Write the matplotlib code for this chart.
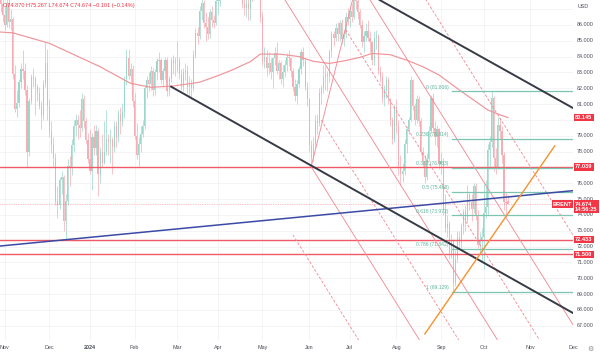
import numpy as np
import pandas as pd
import matplotlib
matplotlib.use("Agg")
import matplotlib.pyplot as plt
import matplotlib.transforms as mtransforms

plt.rcParams["font.family"] = ["Liberation Sans", "DejaVu Sans"]

# trading calendar of the CFD (weekdays minus exchange holidays)
holidays = ["2023-12-25", "2024-01-01", "2024-03-29"]
days = pd.bdate_range("2023-10-30", "2024-12-31")
days = days[~days.isin(pd.to_datetime(holidays))]

# daily bars from 2023-10-30 to 2024-10-17
opens = [88.6, 87.3,
         86.6, 86.0, 87.4, 86.2, 86.4, 82.9, 80.7, 81.1, 82.4, 83.2, 83.1, 81.9, 78.0, 81.2, 82.7, 82.6, 82.1, 81.7, 80.9, 80.3, 82.3, 83.6,
         80.9, 79.3, 78.4, 77.6, 74.9, 74.6, 76.2, 76.4, 73.6, 74.9, 77.1, 77.0, 78.4, 79.6, 80.0, 79.7, 79.5, 81.3, 79.9, 78.7,
         77.5, 76.8, 78.9, 78.2, 79.3, 76.6, 78.0, 77.3, 78.0, 78.8, 78.6, 78.7, 78.3, 79.6, 78.9, 80.4, 79.9, 80.5, 82.6, 83.9, 82.8, 83.2,
         81.2, 79.0, 77.8, 78.5, 79.1, 79.6, 82.0, 82.5, 82.3, 83.1, 81.9, 83.0, 83.7, 83.8, 82.5, 83.1, 83.8, 81.8, 82.6, 83.8, 83.6,
         83.7, 83.8, 82.9, 82.1, 83.0, 83.1, 82.1, 82.3, 82.0, 84.1, 85.5, 85.3, 86.9, 87.4, 86.1, 85.9, 85.4, 86.8, 86.3, 86.1,
         87.5, 87.5, 89.0, 89.4, 90.7, 91.2, 90.4, 89.4, 90.5, 89.7, 90.5, 90.1, 90.0, 87.3, 87.1, 87.3, 87.0, 88.4, 88.0, 89.0, 89.5, 88.4,
         86.5, 83.7, 84.0, 83.3, 83.6, 83.0, 83.9, 84.2, 83.1, 83.6, 82.6, 83.0, 83.5, 84.0, 83.9, 83.1, 82.1, 81.5, 82.3, 83.2, 84.3, 83.8, 82.1,
         81.3, 78.4, 77.6, 78.5, 79.9, 79.8, 81.7, 82.0, 82.7, 82.9, 82.8, 84.3, 85.4, 85.2, 85.8, 85.4, 86.1, 85.1, 85.4, 86.5,
         86.4, 86.9, 86.5, 87.6, 87.5, 86.8, 86.0, 84.9, 85.3, 85.6, 85.2, 84.9, 83.8, 85.2, 85.3, 83.1, 82.7, 81.4, 81.9, 82.5, 81.3, 80.0, 78.8,
         80.8, 79.6, 77.0, 76.6, 76.8, 78.5, 79.4, 80.0, 82.5, 80.9, 80.0, 81.3, 79.9, 78.0, 77.4, 76.4, 77.5, 79.3, 81.4, 79.5, 78.9, 79.4,
         77.2, 77.4, 74.3, 73.2, 73.4, 71.6, 72.4, 69.7, 71.2, 72.6, 72.2, 73.3, 74.2, 73.7, 75.3, 74.8, 74.4, 75.8, 74.0, 72.1, 72.4,
         72.6, 74.1, 74.5, 78.1, 78.6, 81.4, 77.6, 77.0, 79.7, 79.3, 77.8, 74.8, 74.87]
highs = [89.0, 88.0,
         87.2, 87.8, 87.9, 87.0, 86.5, 83.5, 81.9, 82.6, 83.6, 84.4, 83.6, 82.2, 81.4, 82.9, 83.3, 82.8, 82.3, 82.1, 81.2, 82.5, 84.9, 84.5,
         81.3, 79.9, 78.9, 77.9, 75.8, 76.4, 76.8, 76.5, 75.3, 77.5, 77.7, 78.8, 80.0, 80.4, 80.3, 80.6, 81.7, 81.6, 80.1, 79.2,
         79.4, 79.2, 79.7, 79.7, 79.5, 78.3, 79.1, 79.9, 80.6, 79.1, 79.4, 78.9, 79.9, 79.9, 80.6, 80.8, 81.1, 82.8, 84.5, 84.5, 83.6, 83.5,
         81.7, 79.8, 78.9, 79.6, 80.0, 82.2, 82.8, 83.0, 83.4, 83.3, 83.2, 83.9, 84.3, 83.9, 83.3, 84.0, 84.0, 82.8, 84.0, 84.1, 84.0,
         85.0, 84.0, 83.2, 83.3, 83.6, 83.5, 82.8, 82.6, 84.4, 85.8, 85.9, 87.2, 87.8, 87.6, 86.8, 86.5, 87.0, 87.2, 86.6, 87.7,
         88.0, 89.2, 89.8, 91.0, 91.5, 91.3, 90.7, 90.9, 90.8, 92.2, 91.0, 90.6, 90.2, 87.9, 90.8, 87.7, 88.7, 88.8, 89.2, 89.7, 89.6, 88.8,
         86.8, 84.6, 84.4, 84.3, 83.9, 84.0, 84.6, 84.9, 83.8, 83.7, 83.5, 83.8, 84.2, 84.4, 84.0, 83.3, 82.6, 82.5, 83.4, 84.5, 84.6, 83.9, 82.4,
         81.4, 78.7, 78.9, 80.3, 80.4, 82.0, 82.2, 83.5, 83.4, 83.1, 84.5, 85.6, 85.6, 86.1, 86.2, 86.3, 86.4, 85.7, 86.8, 87.1,
         87.2, 87.4, 88.0, 87.8, 88.0, 87.0, 86.3, 85.6, 86.1, 86.3, 85.6, 85.0, 85.6, 85.7, 85.4, 83.4, 83.0, 82.2, 82.8, 82.7, 81.4, 80.2, 81.0,
         81.3, 80.0, 77.8, 77.3, 78.8, 79.6, 80.2, 82.8, 82.6, 81.1, 81.6, 81.5, 80.1, 78.3, 77.8, 77.9, 79.6, 81.6, 81.7, 79.9, 79.7, 79.5,
         78.0, 77.6, 75.3, 74.0, 73.6, 72.8, 72.5, 71.8, 73.0, 73.0, 73.5, 74.4, 74.6, 75.9, 75.4, 75.3, 76.0, 76.0, 74.3, 72.9, 73.2,
         76.0, 76.2, 78.5, 79.0, 81.806, 81.5, 78.2, 80.2, 80.1, 79.6, 78.0, 75.4, 75.267]
lows = [86.8, 86.2,
        85.7, 85.9, 85.8, 85.7, 82.6, 80.5, 80.2, 80.8, 82.0, 82.6, 81.6, 77.04, 77.7, 81.0, 82.1, 80.3, 81.2, 80.7, 79.4, 80.0, 82.1, 80.0,
        78.9, 77.9, 77.0, 74.6, 73.8, 74.4, 75.3, 73.0, 72.433, 74.6, 75.8, 76.5, 78.0, 79.0, 78.8, 78.9, 79.3, 79.5, 78.5, 77.3,
        76.6, 75.6, 77.8, 77.8, 75.2, 76.0, 77.0, 77.2, 77.8, 77.8, 77.3, 76.6, 78.0, 78.3, 78.6, 79.1, 79.6, 80.1, 82.2, 82.6, 82.3, 80.8,
        78.8, 77.5, 77.1, 78.0, 78.9, 79.4, 81.4, 81.8, 81.9, 81.5, 81.6, 82.5, 83.0, 82.3, 82.1, 82.6, 81.5, 81.5, 82.4, 82.9, 82.8,
        83.0, 82.6, 81.9, 81.8, 82.5, 81.7, 81.5, 81.3, 81.8, 83.9, 84.8, 85.1, 86.3, 85.8, 85.0, 85.1, 85.2, 85.9, 85.8, 86.0,
        86.7, 87.2, 88.3, 89.0, 90.0, 89.6, 89.0, 88.6, 89.2, 89.6, 89.7, 89.3, 87.1, 86.6, 86.5, 86.3, 86.3, 87.5, 87.6, 88.8, 87.8, 86.2,
        83.5, 83.3, 82.8, 82.9, 82.6, 82.0, 83.5, 82.9, 82.6, 82.3, 82.1, 82.7, 83.1, 83.4, 82.7, 81.8, 81.2, 81.0, 82.1, 82.9, 83.4, 81.9, 80.9,
        78.0, 77.04, 77.4, 78.3, 79.1, 79.6, 81.0, 81.7, 81.9, 81.8, 82.4, 84.0, 84.7, 85.0, 85.0, 85.0, 84.8, 84.7, 85.2, 86.0,
        85.9, 86.2, 86.4, 87.0, 86.4, 85.8, 84.6, 84.3, 85.0, 85.0, 84.3, 83.5, 83.5, 84.5, 82.9, 82.4, 81.1, 80.9, 81.4, 81.0, 79.6, 78.5, 78.6,
        79.2, 76.5, 75.9, 76.1, 76.5, 77.9, 79.1, 79.9, 80.6, 79.7, 79.8, 79.6, 77.8, 77.0, 76.0, 76.2, 77.4, 79.2, 79.3, 78.4, 78.3, 76.9,
        76.6, 74.0, 72.9, 72.6, 71.2, 71.3, 69.129, 69.5, 71.0, 71.9, 71.9, 72.8, 73.0, 73.5, 74.3, 73.6, 74.1, 73.7, 71.9, 71.6, 71.0,
        70.6, 73.8, 74.0, 76.9, 78.3, 76.8, 76.6, 76.9, 78.8, 77.3, 74.3, 74.0, 74.674]
closes = [87.3, 86.6,
          86.0, 87.4, 86.2, 86.4, 82.9, 80.7, 81.1, 82.4, 83.2, 83.1, 81.9, 78.0, 81.2, 82.7, 82.6, 82.1, 81.7, 80.9, 80.3, 82.3, 83.6, 80.9,
          79.3, 78.4, 77.6, 74.9, 74.6, 76.2, 76.4, 73.6, 74.9, 77.1, 77.0, 78.4, 79.6, 80.0, 79.7, 79.5, 81.3, 79.9, 78.7, 77.5,
          76.8, 78.9, 78.2, 79.3, 76.6, 78.0, 77.3, 78.0, 78.8, 78.6, 78.7, 78.3, 79.6, 78.9, 80.4, 79.9, 80.5, 82.6, 83.9, 82.8, 83.2, 81.2,
          79.0, 77.8, 78.5, 79.1, 79.6, 82.0, 82.5, 82.3, 83.1, 81.9, 83.0, 83.7, 83.8, 82.5, 83.1, 83.8, 81.8, 82.6, 83.8, 83.6, 83.7,
          83.8, 82.9, 82.1, 83.0, 83.1, 82.1, 82.3, 82.0, 84.1, 85.5, 85.3, 86.9, 87.4, 86.1, 85.9, 85.4, 86.8, 86.3, 86.1, 87.5,
          87.5, 89.0, 89.4, 90.7, 91.2, 90.4, 89.4, 90.5, 89.7, 90.5, 90.1, 90.0, 87.3, 87.1, 87.3, 87.0, 88.4, 88.0, 89.0, 89.5, 88.4, 86.5,
          83.7, 84.0, 83.3, 83.6, 83.0, 83.9, 84.2, 83.1, 83.6, 82.6, 83.0, 83.5, 84.0, 83.9, 83.1, 82.1, 81.5, 82.3, 83.2, 84.3, 83.8, 82.1, 81.3,
          78.4, 77.6, 78.5, 79.9, 79.8, 81.7, 82.0, 82.7, 82.9, 82.8, 84.3, 85.4, 85.2, 85.8, 85.4, 86.1, 85.1, 85.4, 86.5, 86.4,
          86.9, 86.5, 87.6, 87.5, 86.8, 86.0, 84.9, 85.3, 85.6, 85.2, 84.9, 83.8, 85.2, 85.3, 83.1, 82.7, 81.4, 81.9, 82.5, 81.3, 80.0, 78.8, 80.8,
          79.6, 77.0, 76.6, 76.8, 78.5, 79.4, 80.0, 82.5, 80.9, 80.0, 81.3, 79.9, 78.0, 77.4, 76.4, 77.5, 79.3, 81.4, 79.5, 78.9, 79.4, 77.2,
          77.4, 74.3, 73.2, 73.4, 71.6, 72.4, 69.7, 71.2, 72.6, 72.2, 73.3, 74.2, 73.7, 75.3, 74.8, 74.4, 75.8, 74.0, 72.1, 72.4, 72.6,
          74.1, 74.5, 78.1, 78.6, 81.4, 77.6, 77.0, 79.7, 79.3, 77.8, 74.8, 74.775, 74.674]

# moving average (pink curve), sampled off the chart
ma_dates = ["2023-10-30", "2023-11-07", "2023-12-01", "2024-01-09", "2024-01-30", "2024-02-13",
            "2024-02-28", "2024-03-18", "2024-04-02", "2024-04-10", "2024-04-23", "2024-04-30",
            "2024-05-14", "2024-05-27", "2024-06-05", "2024-06-17", "2024-06-27", "2024-07-08",
            "2024-07-16", "2024-07-29", "2024-08-05", "2024-08-08", "2024-08-20", "2024-08-30",
            "2024-09-13", "2024-09-24", "2024-10-03", "2024-10-10", "2024-10-17"]
ma_values = [85.55, 85.50, 84.84, 83.36, 82.31, 82.06, 82.14, 82.38, 82.84, 83.15, 83.68, 84.16,
             84.15, 84.00, 83.70, 83.57, 83.75, 83.95, 84.20, 84.12, 83.90, 83.78, 83.36, 82.84,
             81.89, 81.26, 80.63, 80.37, 80.145]

h_levels = [77.039, 72.433, 71.500]
last_price = 74.674
countdown = "14:56:25"
symbol = "BRENT"
header = "O74.870 H75.267 L74.674 C74.674 \u22120.101 (\u22120.14%)"

# drawings: ((date, price), (date, price))
blue_line = (("2023-12-13", 72.433), ("2024-12-02", 75.53))
black_upper = (("2024-08-05", 86.84), ("2024-12-02", 80.75))
black_lower = (("2024-02-27", 82.10), ("2024-12-02", 67.80))
orange_line = (("2024-08-21", 66.48), ("2024-11-19", 78.36))
pink_solid = [(("2024-05-09", 88.62), ("2024-10-15", 65.44)),
              (("2024-06-04", 77.04), ("2024-08-21", 65.55)),
              (("2024-07-08", 88.60), ("2024-12-04", 66.65)),
              (("2024-06-04", 77.04), ("2024-07-03", 87.90))]
pink_dashed = [(("2024-05-22", 72.74), ("2024-07-10", 65.56)),
               (("2024-06-11", 79.98), ("2024-09-17", 65.62)),
               (("2024-06-27", 85.69), ("2024-11-12", 65.59)),
               (("2024-08-15", 88.52), ("2024-12-04", 72.32))]

fib_start = "2024-09-10"
fib_high = 81.806
fib_low = 69.129
fib_ratios = [0, 0.236, 0.382, 0.5, 0.618, 0.786, 1]

month_dates = ["2023-11-01", "2023-12-01", "2024-01-02", "2024-02-01", "2024-03-01", "2024-04-01",
               "2024-05-01", "2024-06-03", "2024-07-01", "2024-08-01", "2024-09-02", "2024-10-01",
               "2024-11-01", "2024-12-02"]
month_labels = ["Nov", "Dec", "2024", "Feb", "Mar", "Apr", "May", "Jun", "Jul", "Aug", "Sep", "Oct",
                "Nov", "Dec"]
price_ticks = list(range(67, 87))


def bar(d):
    return float(days.get_loc(pd.Timestamp(d)))


def seg(line):
    (d1, p1), (d2, p2) = line
    return [bar(d1), bar(d2)], [p1, p2]


RED = "#f23645"
UP = "#9bd8c9"
DOWN = "#f7adb3"
PINK = "#f38d95"
FIB = "#7cc6b1"

fig = plt.figure(figsize=(6, 3.55), dpi=100)
ax = fig.add_axes([0, 15 / 355, 573 / 600, 340 / 355])
ax.set_xlim(-0.32, 282.0)
ax.set_ylim(66.097, 87.575)
for s in ax.spines.values():
    s.set_visible(False)
ax.set_xticks([])
ax.set_yticks([])

# grid
for p in price_ticks + [87]:
    ax.axhline(p, color="#f2f3f6", lw=0.6, zorder=0)
for d in month_dates:
    ax.axvline(bar(d), color="#f2f3f6", lw=0.6, zorder=0)

# candles
o = np.array(opens)
h = np.array(highs)
l = np.array(lows)
c = np.array(closes)
x = np.arange(len(c))
colors = np.where(c >= o, UP, DOWN)
ax.vlines(x, l, h, colors=colors, lw=0.5, zorder=2)
body = np.maximum(np.abs(c - o), 0.06)
ax.bar(x, body, bottom=np.minimum(o, c), width=0.58, color=colors, lw=0, zorder=2)

# moving average
ax.plot([bar(d) for d in ma_dates], ma_values, color="#ef9499", lw=0.85, zorder=3)

# horizontal levels
for lv in h_levels:
    ax.axhline(lv, color="#f05a66", lw=1.0, zorder=4)
ax.axhline(last_price, color=RED, lw=0.5, ls=(0, (1, 1.5)), alpha=0.6, zorder=4)

# channel lines
for ln in pink_solid:
    ax.plot(*seg(ln), color=PINK, lw=0.65, zorder=4)
for ln in pink_dashed:
    ax.plot(*seg(ln), color=PINK, lw=0.65, ls=(0, (3, 2)), zorder=4)

# trend lines
(bx, by) = seg(blue_line)
ax.axline((bx[0], by[0]), (bx[1], by[1]), color="#3b4aa6", lw=1.1, zorder=5)
(kx, ky) = seg(black_upper)
ax.axline((kx[0], ky[0]), (kx[1], ky[1]), color="#363a45", lw=1.4, zorder=5)
ax.plot(*seg(black_lower), color="#363a45", lw=1.4, zorder=5)
ax.plot(*seg(orange_line), color="#f5922f", lw=1.0, zorder=5)

# fibonacci retracement
fx0 = bar(fib_start) - 0.6
for r in fib_ratios:
    lvl = fib_high - r * (fib_high - fib_low)
    ax.plot([fx0, 282.0], [lvl, lvl], color=FIB, lw=0.9, zorder=4)
    ax.text(fx0 - 1.6, lvl + 0.1, f"{r:g} ({lvl:.3f})", color="#5fb69d", fontsize=3.6,
            ha="right", va="bottom", zorder=6)

# price scale (labels hidden behind the tags are left out)
tag_levels = [ma_values[-1]] + h_levels
ytr = mtransforms.blended_transform_factory(ax.transAxes, ax.transData)
for p in price_ticks:
    if min(abs(p - t) for t in tag_levels) < 0.3:
        continue
    ax.text(1.007, p, f"{p:.3f}", transform=ytr, ha="left", va="center", fontsize=3.9,
            color="#4a4d57", clip_on=False)

tag_style = dict(boxstyle="square,pad=0.22", fc=RED, ec="none")
for lv in tag_levels:
    ax.text(1.0035, lv, f"{lv:.3f}", transform=ytr, ha="left", va="center", fontsize=4.1,
            color="white", weight="bold", bbox=tag_style, clip_on=False, zorder=10)
ax.text(1.0035, last_price - 0.17, f"{last_price:.3f}\n{countdown}", transform=ytr, ha="left",
        va="center", fontsize=4.1, color="white", weight="bold", linespacing=1.1,
        bbox=tag_style, clip_on=False, zorder=10)
ax.text(0.9985, last_price, symbol, transform=ytr, ha="right", va="center", fontsize=4.1,
        color="white", weight="bold", bbox=tag_style, clip_on=False, zorder=10)

# time scale
xtr = mtransforms.blended_transform_factory(ax.transData, ax.transAxes)
for d, lab in zip(month_dates, month_labels):
    ax.text(bar(d), -0.021, lab, transform=xtr, ha="center", va="center", fontsize=3.9,
            color="#4a4d57", weight="bold" if lab == "2024" else "normal", clip_on=False)

fig.text(3 / 600, 1 - 6 / 355, header, color=RED, fontsize=3.95, ha="left", va="center")
fig.text(578 / 600, 1 - 6 / 355, "USD", color="#4a4d57", fontsize=3.9, ha="left", va="center")
fig.text(590 / 600, 6 / 355, "\u2699", color="#888a92", fontsize=5, ha="center", va="center")

fig.savefig("out.png", dpi=100)
